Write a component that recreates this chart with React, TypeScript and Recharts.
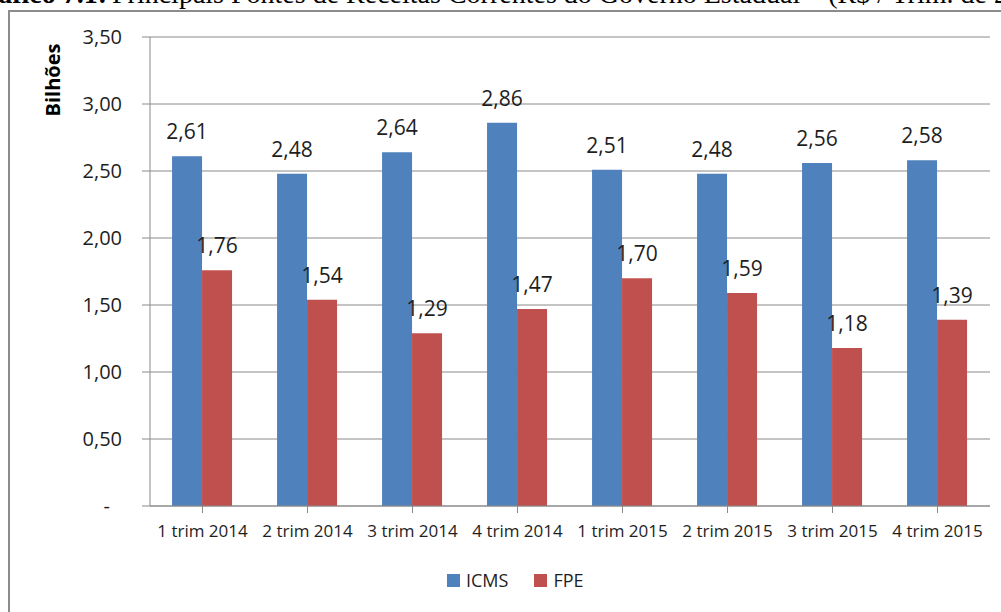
import { BarChart, Bar, XAxis, YAxis, CartesianGrid, Legend, LabelList } from 'recharts';

const quarters = ['1 trim 2014', '2 trim 2014', '3 trim 2014', '4 trim 2014', '1 trim 2015', '2 trim 2015', '3 trim 2015', '4 trim 2015'];
const icms = [2.61, 2.48, 2.64, 2.86, 2.51, 2.48, 2.56, 2.58];
const fpe = [1.76, 1.54, 1.29, 1.47, 1.70, 1.59, 1.18, 1.39];
const yTicks = [0, 0.5, 1, 1.5, 2, 2.5, 3, 3.5];

const data = quarters.map((q, i) => ({ quarter: q, ICMS: icms[i], FPE: fpe[i] }));

const FONT = '"Open Sans", "Noto Sans", sans-serif';
const SERIF = '"Liberation Serif", "Times New Roman", serif';
const TEXT = '#1e1e1e';
const GRID = '#8a8a8a';
const BLUE = '#4f81bd';
const RED = '#c0504d';

const fmt = (v: number) => v.toFixed(2).replace('.', ',');

function YTick(props: any) {
  const { x, y, payload } = props;
  const isZero = payload.value === 0;
  return (
    <text x={isZero ? x - 12 : x} y={y} dy={7} textAnchor="end" fontSize={20} fill={TEXT} fontFamily={FONT}>
      {isZero ? '-' : fmt(payload.value)}
    </text>
  );
}

function LegendBox() {
  const items = [
    { name: 'ICMS', color: BLUE },
    { name: 'FPE', color: RED },
  ];
  return (
    <div style={{ width: 1001, height: 56, position: 'relative', fontFamily: FONT }}>
      <div style={{ position: 'absolute', left: 447, top: 12, display: 'flex', alignItems: 'center' }}>
        {items.map((it, i) => (
          <div key={it.name} style={{ display: 'flex', alignItems: 'center', marginRight: i === 0 ? 26 : 0 }}>
            <span style={{ width: 13, height: 13, background: it.color, display: 'inline-block', marginRight: 6 }} />
            <span style={{ fontSize: 18, color: TEXT, lineHeight: '24px' }}>{it.name}</span>
          </div>
        ))}
      </div>
    </div>
  );
}

const captionStyle = {
  position: 'absolute' as const,
  top: -22,
  whiteSpace: 'nowrap' as const,
  fontFamily: SERIF,
  fontSize: 28,
  lineHeight: '32px',
  color: '#000',
};

export default function App() {
  return (
    <div style={{ position: 'absolute', left: 0, top: 0, width: 1001, height: 612, overflow: 'hidden', background: '#fff' }}>
      {/* caption line, mostly cut off at the top */}
      <div style={{ ...captionStyle, left: -36, fontWeight: 'bold' }}>Gráfico 7.1:</div>
      <div style={{ ...captionStyle, left: 112 }}>
        Principais Fontes de Receitas Correntes do Governo Estadual – (R$ / Trim. de 2014 e 2015)
      </div>
      {/* chart frame */}
      <div
        style={{
          position: 'absolute',
          left: 8,
          top: 10,
          width: 1100,
          height: 700,
          borderLeft: '2px solid #8c8c8c',
          borderTop: '2px solid #8c8c8c',
        }}
      />
      <div style={{ position: 'absolute', left: 0, top: 0 }}>
        <BarChart
          width={1001}
          height={612}
          data={data}
          margin={{ top: 37, right: 11, left: 0, bottom: 0 }}
          barCategoryGap="21%"
          barGap={0}
        >
          <CartesianGrid vertical={false} stroke={GRID} strokeWidth={1} />
          <XAxis
            dataKey="quarter"
            height={50}
            stroke={GRID}
            tickSize={7}
            tickLine={{ stroke: GRID }}
            tick={{ fontSize: 17, fill: TEXT, fontFamily: FONT }}
            tickMargin={12}
            interval={0}
          />
          <YAxis
            width={150}
            domain={[0, 3.5]}
            ticks={yTicks}
            stroke={GRID}
            tickSize={8}
            tickMargin={20}
            tick={<YTick />}
            label={{
              value: 'Bilhões',
              content: () => (
                <text
                  x={60}
                  y={80}
                  transform="rotate(-90 60 80)"
                  textAnchor="middle"
                  fontSize={20}
                  fontWeight="bold"
                  fill="#000"
                  fontFamily={FONT}
                >
                  Bilhões
                </text>
              ),
            }}
          />
          <Legend verticalAlign="bottom" content={<LegendBox />} wrapperStyle={{ left: 0, width: 1001 }} />
          <Bar dataKey="ICMS" fill={BLUE} isAnimationActive={false}>
            <LabelList dataKey="ICMS" position="top" offset={17} formatter={(v: any) => fmt(Number(v))} style={{ fontSize: 21, fill: TEXT, fontFamily: FONT }} />
          </Bar>
          <Bar dataKey="FPE" fill={RED} isAnimationActive={false}>
            <LabelList dataKey="FPE" position="top" offset={17} formatter={(v: any) => fmt(Number(v))} style={{ fontSize: 21, fill: TEXT, fontFamily: FONT }} />
          </Bar>
        </BarChart>
      </div>
    </div>
  );
}
